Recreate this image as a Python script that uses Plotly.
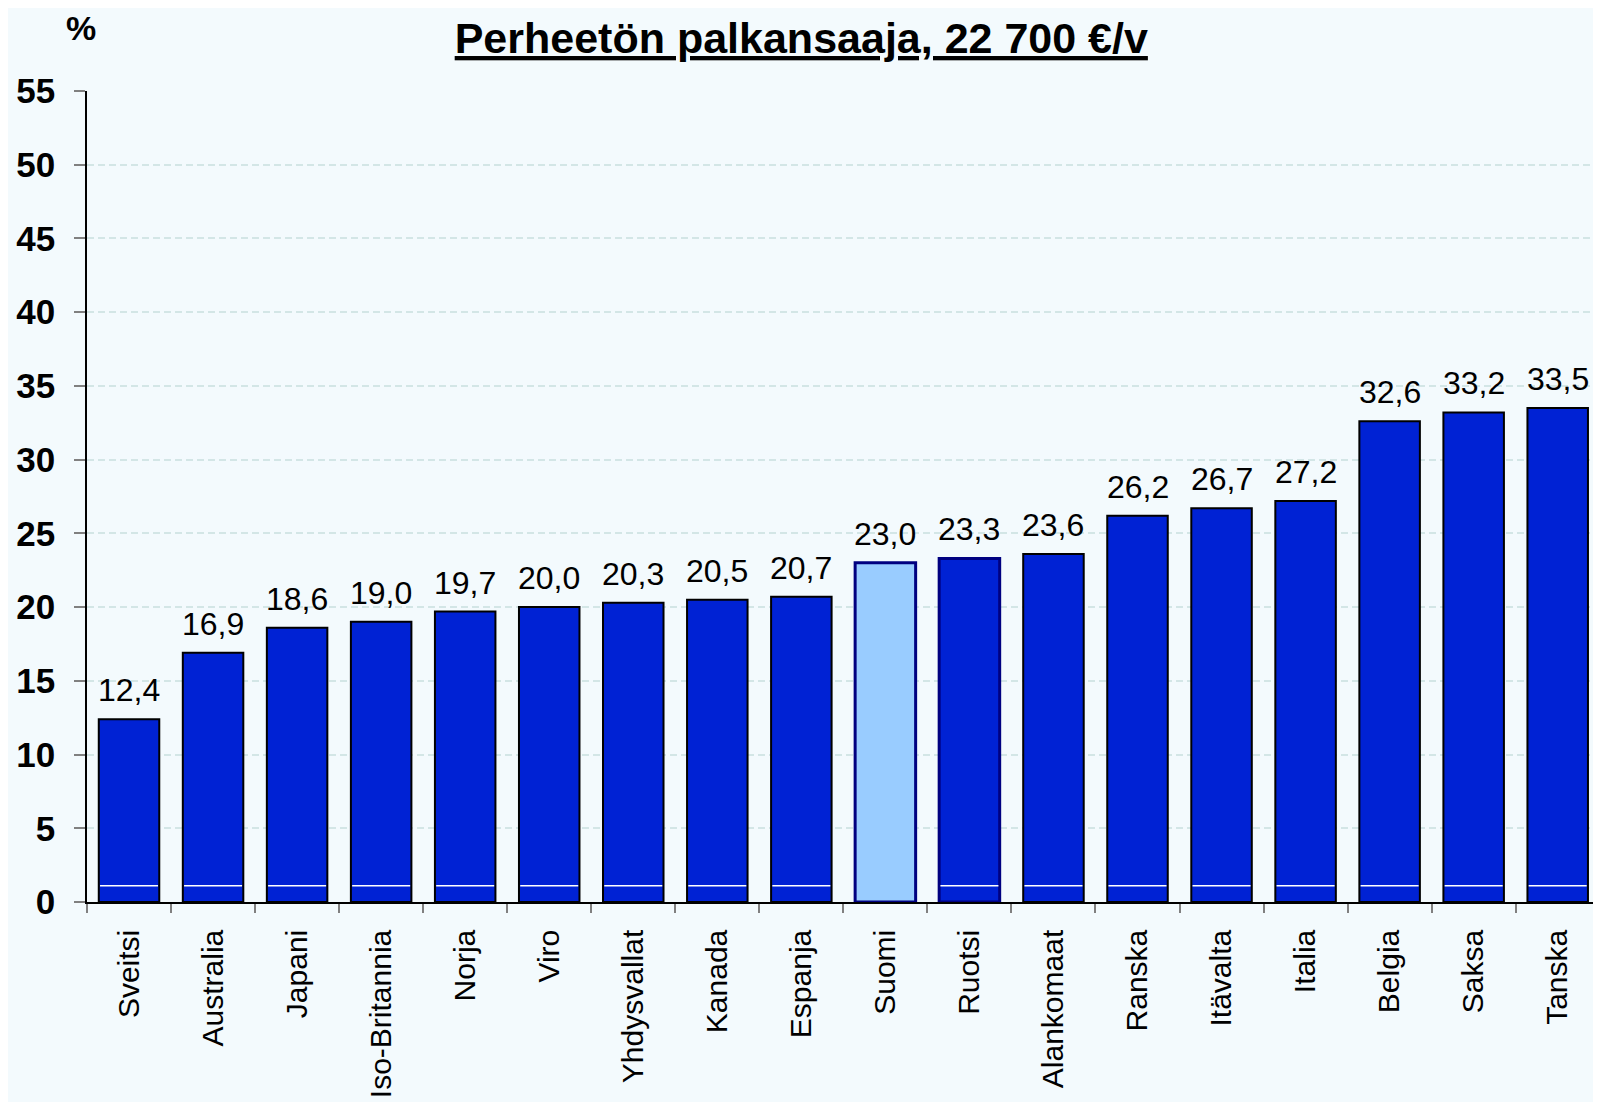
import plotly.graph_objects as go

categories = ["Sveitsi", "Australia", "Japani", "Iso-Britannia", "Norja", "Viro",
              "Yhdysvallat", "Kanada", "Espanja", "Suomi", "Ruotsi", "Alankomaat",
              "Ranska", "Itävalta", "Italia", "Belgia", "Saksa", "Tanska"]
values = [12.4, 16.9, 18.6, 19.0, 19.7, 20.0, 20.3, 20.5, 20.7, 23.0, 23.3, 23.6,
          26.2, 26.7, 27.2, 32.6, 33.2, 33.5]
y_ticks = [0, 5, 10, 15, 20, 25, 30, 35, 40, 45, 50, 55]
title_text = "Perheetön palkansaaja, 22 700 €/v"
unit_text = "%"
highlight = "Suomi"
outlined = ["Suomi", "Ruotsi"]

BAR = "#0022D4"
HIGHLIGHT = "#99CCFF"
NAVY = "#000080"
BG = "#F3FAFD"
FONT = "Liberation Sans, Arial, sans-serif"

fills = [HIGHLIGHT if c == highlight else BAR for c in categories]
line_colors = [NAVY if c in outlined else "#000000" for c in categories]
line_widths = [3 if c in outlined else 2 for c in categories]
labels = [f"{v:.1f}".replace(".", ",") for v in values]

fig = go.Figure()
fig.add_trace(go.Bar(
    x=categories, y=values,
    marker=dict(color=fills, line=dict(color=line_colors, width=line_widths)),
    hoverinfo="skip", cliponaxis=False,
))

annotations = []
for c, v, t in zip(categories, values, labels):
    annotations.append(dict(x=c, y=v, text=t, showarrow=False, yanchor="bottom",
                            yshift=9, font=dict(size=32, color="black", family=FONT)))
annotations.append(dict(x=-0.004, y=1.078, xref="paper", yref="paper", text=unit_text,
                        showarrow=False, xanchor="center", yanchor="middle",
                        font=dict(size=34, color="black", family=FONT, weight="bold")))

shapes = []
for i, c in enumerate(categories):
    if c == highlight:
        continue
    shapes.append(dict(type="line", xref="x", yref="y", x0=i - 0.345, x1=i + 0.345,
                       y0=1.1, y1=1.1, line=dict(color="white", width=1.5), layer="above"))

fig.update_layout(
    width=1585, height=1094,
    margin=dict(l=79, r=0, t=83, b=200),
    paper_bgcolor=BG, plot_bgcolor=BG,
    bargap=0.28,
    showlegend=False,
    title=dict(text=("<span style='text-decoration:underline'>"
                     f"{title_text}</span>"),
               x=0.5005, xref="container", xanchor="center",
               y=0.9726, yref="container", yanchor="middle",
               font=dict(size=43, color="black", family=FONT, weight="bold")),
    annotations=annotations,
    shapes=shapes,
    font=dict(family=FONT, color="black"),
)
fig.update_xaxes(
    range=[-0.5, 17.42], automargin=False,
    showline=True, linecolor="#000000", linewidth=1.5,
    ticks="outside", ticklen=9, tickcolor="#808080", tickwidth=1.5,
    tickson="boundaries", tickangle=-90,
    tickfont=dict(size=30, color="black", family=FONT),
    ticklabelstandoff=14,
    showgrid=False,
)
fig.update_yaxes(
    range=[0, 55], tickvals=y_ticks, automargin=False,
    showline=True, linecolor="#000000", linewidth=1.5,
    ticks="outside", ticklen=11, tickcolor="#808080", tickwidth=1.5,
    tickfont=dict(size=35, color="black", family=FONT, weight="bold"),
    ticklabelstandoff=12,
    showgrid=True, gridcolor="#D3E6E6", gridwidth=1.5, griddash="7px,4px",
    zeroline=False,
)

fig.write_html("out.html")
